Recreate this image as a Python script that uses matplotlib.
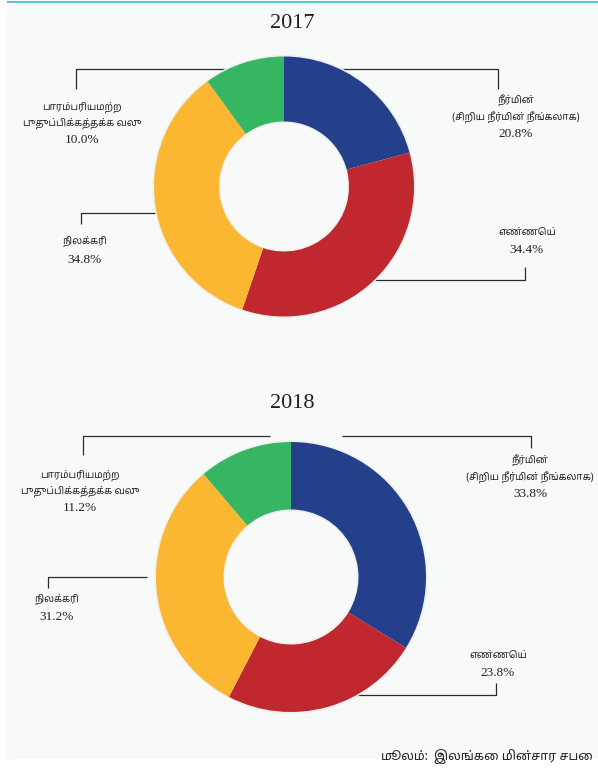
import matplotlib
matplotlib.use("Agg")
import matplotlib.pyplot as plt
from matplotlib.patches import Rectangle

# Data
categories = ["நீர்மின்\n(சிறிய நீர்மின் நீங்கலாக)", "எண்ணெய்", "நிலக்கரி",
              "பாரம்பரியமற்ற\nபுதுப்பிக்கத்தக்க வலு"]
years = ["2017", "2018"]
values_2017 = [20.8, 34.4, 34.8, 10.0]
values_2018 = [33.8, 23.8, 31.2, 11.2]
colours = ["#25408a", "#c1272f", "#fbb731", "#36b663"]
source_lead = "மூலம்:"
source_text = "இலங்கை மின்சார சபை"

W, H = 598, 769
TAMIL = ["Noto Sans Tamil", "Lohit Tamil", "DejaVu Sans"]
SERIF = ["Liberation Serif", "DejaVu Serif"]
INK = "#231f20"
LINE = "#2b2b2b"
PAD = 1.03

fig = plt.figure(figsize=(W / 100, H / 100), dpi=100)
fig.patch.set_facecolor("white")

# background axes in pixel coordinates (y down)
bg = fig.add_axes([0, 0, 1, 1])
bg.set_xlim(0, W)
bg.set_ylim(H, 0)
bg.axis("off")
bg.set_zorder(0)
bg.add_patch(Rectangle((7, 3), W - 7, 756, facecolor="#f8fafa", edgecolor="none"))
bg.add_patch(Rectangle((7, 1), W - 7, 2.2, facecolor="#5bc4d3", edgecolor="none"))


def donut(values, cx, cy, r):
    rr = r * PAD
    ax = fig.add_axes([(cx - rr) / W, (H - cy - rr) / H, 2 * rr / W, 2 * rr / H])
    ax.set_zorder(2)
    ax.patch.set_visible(False)
    # soft shadow round the ring
    ax.pie([1], radius=1.012, colors=["#eef0f0"],
           wedgeprops=dict(width=0.524, edgecolor="none"))
    ax.pie(values, colors=colours, startangle=90, counterclock=False,
           wedgeprops=dict(width=0.5, edgecolor="none"))
    ax.set_xlim(-PAD, PAD)
    ax.set_ylim(-PAD, PAD)
    ax.set_aspect("equal")
    ax.axis("off")


def leader(pts):
    xs, ys = zip(*pts)
    bg.plot(xs, ys, color=LINE, lw=0.9, solid_capstyle="butt")


def label(x, ys, name, value):
    lines = name.split("\n")
    for y, line in zip(ys, lines):
        bg.text(x, y, line, family=TAMIL, fontsize=7, color=INK,
                ha="center", va="center")
    bg.text(x, ys[-1], "%.1f%%" % value, family=SERIF, fontsize=9.5,
            color=INK, ha="center", va="center")


# 2017
bg.text(292, 24, years[0], family=SERIF, fontsize=16, color=INK,
        ha="center", va="center")
leader([(76, 89), (76, 69), (498, 69), (498, 89)])
leader([(81, 224), (81, 213), (170, 213)])
leader([(525, 267), (525, 280), (360, 280)])
donut(values_2017, 284, 186.5, 130)
label(516, [100, 117, 134], categories[0], values_2017[0])
label(527, [232, 250], categories[1], values_2017[1])
label(85, [241, 260], categories[2], values_2017[2])
label(82, [107, 123, 140], categories[3], values_2017[3])

# 2018
bg.text(292, 403, years[1], family=SERIF, fontsize=16, color=INK,
        ha="center", va="center")
leader([(83, 455), (83, 436), (270, 436)])
leader([(342, 436), (531, 436), (531, 448)])
leader([(48, 588), (48, 577), (147, 577)])
leader([(496, 683), (496, 695), (340, 695)])
donut(values_2018, 291, 577, 135)
label(530, [460, 477, 494], categories[0], values_2018[0])
label(498, [655, 673], categories[1], values_2018[1])
label(57, [599, 617], categories[2], values_2018[2])
label(80, [475, 491, 508], categories[3], values_2018[3])

# source
src = bg.text(593, 757, source_text, family=TAMIL, fontsize=9, color=INK,
              ha="right", va="center")
bg.annotate(source_lead, xy=(0, 0.5), xycoords=src, xytext=(-4, 0),
            textcoords="offset points", family=TAMIL, style="italic",
            fontsize=9, color=INK, ha="right", va="center")

fig.savefig("out.png", dpi=100)
